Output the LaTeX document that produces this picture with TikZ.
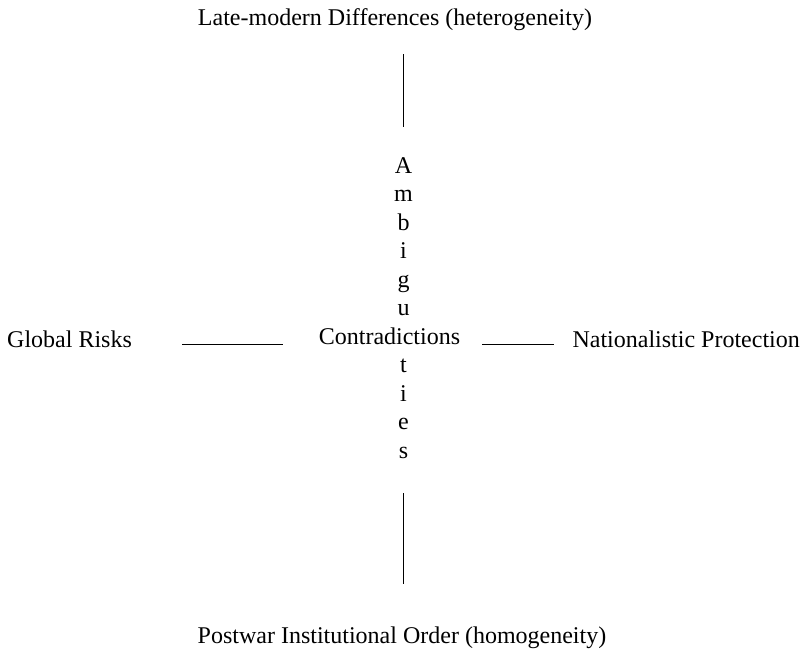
\documentclass[tikz,border=0pt]{standalone}
\usepackage{fontspec}
\setmainfont{Liberation Serif}
\usetikzlibrary{positioning}

\begin{document}
\begin{tikzpicture}[x=1pt, y=-1pt, every node/.style={font=\fontsize{24}{28}\selectfont, inner sep=0pt, anchor=base},
			l/.style={line width=1pt}]
			\useasboundingbox (0,0) rectangle (807,656);
			\node (late) at (395,25) {Late-modern Differences (heterogeneity)};
			\node (post) at (402,643) {Postwar Institutional Order (homogeneity)};
			\node (con) at (389.5,344) {Contradictions};
			\node[anchor=base west] (risk) at (7,347) {Global Risks};
			\node[anchor=base east] (nat) at (800,347) {Nationalistic Protection};
			\foreach \i/\c in {0/A,1/m,2/b,3/i,4/g,5/u,7/t,8/i,9/e,10/s}
				\node (amb\i) at (403.5,173+\i*28.5) {\c};
			\draw[l, shorten <=24pt, shorten >=30pt] (amb0 |- late.south) -- (amb0.north);
			\draw[l, shorten <=35pt, shorten >=42pt] (amb10.south) -- (amb10 |- post.north);
			\draw[l, shorten <=50pt, shorten >=36pt] (risk.mid east) -- (risk.mid east -| con.west);
			\draw[l, shorten <=22pt, shorten >=18pt] (nat.mid west -| con.east) -- (nat.mid west);
		\end{tikzpicture}
\end{document}
